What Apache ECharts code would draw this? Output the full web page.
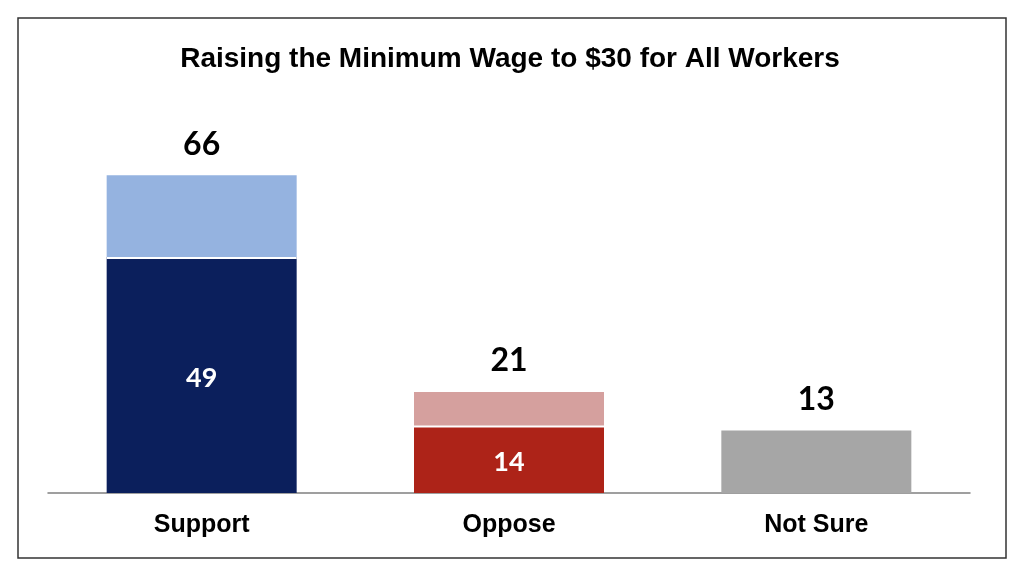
<!DOCTYPE html>
<html>
<head>
<meta charset="utf-8">
<script src="https://cdn.jsdelivr.net/npm/echarts@6/dist/echarts.min.js"></script>
<style>
  html, body { margin: 0; padding: 0; background: #fff; }
  #chart { width: 1024px; height: 574px; }
</style>
</head>
<body>
<div id="chart"></div>
<script>
const categories = ['Support', 'Oppose', 'Not Sure']
const strongValues = [49, 14, 13]
const softValues = [17, 7, 0]
const totals = [66, 21, 13]
const strongColors = ['#0b1f5c', '#ad2318', '#a6a6a6']
const softColors = ['#95b3e0', '#d5a09e', '#a6a6a6']
const showInner = [true, true, false]

let chart = echarts.init(document.getElementById('chart'))

let strongData = strongValues.map((v, i) => ({
  value: v,
  itemStyle: { color: strongColors[i] },
  label: { show: showInner[i] }
}))
let softData = softValues.map((v, i) => ({
  value: v,
  itemStyle: { color: softColors[i] }
}))

chart.setOption({
  animation: false,
  graphic: [{
    type: 'rect',
    shape: { x: 18, y: 18, width: 988, height: 540 },
    style: { fill: 'none', stroke: '#333', lineWidth: 1.5 }
  }],
  title: {
    text: 'Raising the Minimum Wage to $30 for All Workers',
    left: 505,
    top: 40,
    textAlign: 'center',
    textStyle: { fontFamily: 'Liberation Sans', fontWeight: 'bold', fontSize: 28, color: '#000' }
  },
  grid: { left: 48, right: 54, top: 156, bottom: 81 },
  xAxis: {
    type: 'category',
    data: categories,
    axisLine: { lineStyle: { color: '#808080', width: 1.5 } },
    axisTick: { show: false },
    axisLabel: {
      margin: 20,
      fontFamily: 'Liberation Sans',
      fontWeight: 'bold',
      fontSize: 25,
      color: '#000'
    }
  },
  yAxis: { type: 'value', min: 0, max: 70, show: false, splitLine: { show: false } },
  series: [
    {
      type: 'bar',
      stack: 'total',
      barWidth: 190,
      data: strongData,
      label: {
        position: 'inside',
        offset: [0, 3],
        color: '#fff',
        fontFamily: 'Lato',
        fontWeight: 'bold',
        fontSize: 27
      }
    },
    {
      type: 'bar',
      stack: 'total',
      barWidth: 190,
      data: softData,
      // white shadow below the light part draws the thin gap over the dark part
      itemStyle: { shadowColor: '#fff', shadowOffsetY: 2, shadowBlur: 0 },
      label: {
        show: true,
        position: 'top',
        distance: 15,
        formatter: p => totals[p.dataIndex],
        color: '#000',
        fontFamily: 'Lato',
        fontWeight: 'bold',
        fontSize: 32
      }
    }
  ]
})
</script>
</body>
</html>
